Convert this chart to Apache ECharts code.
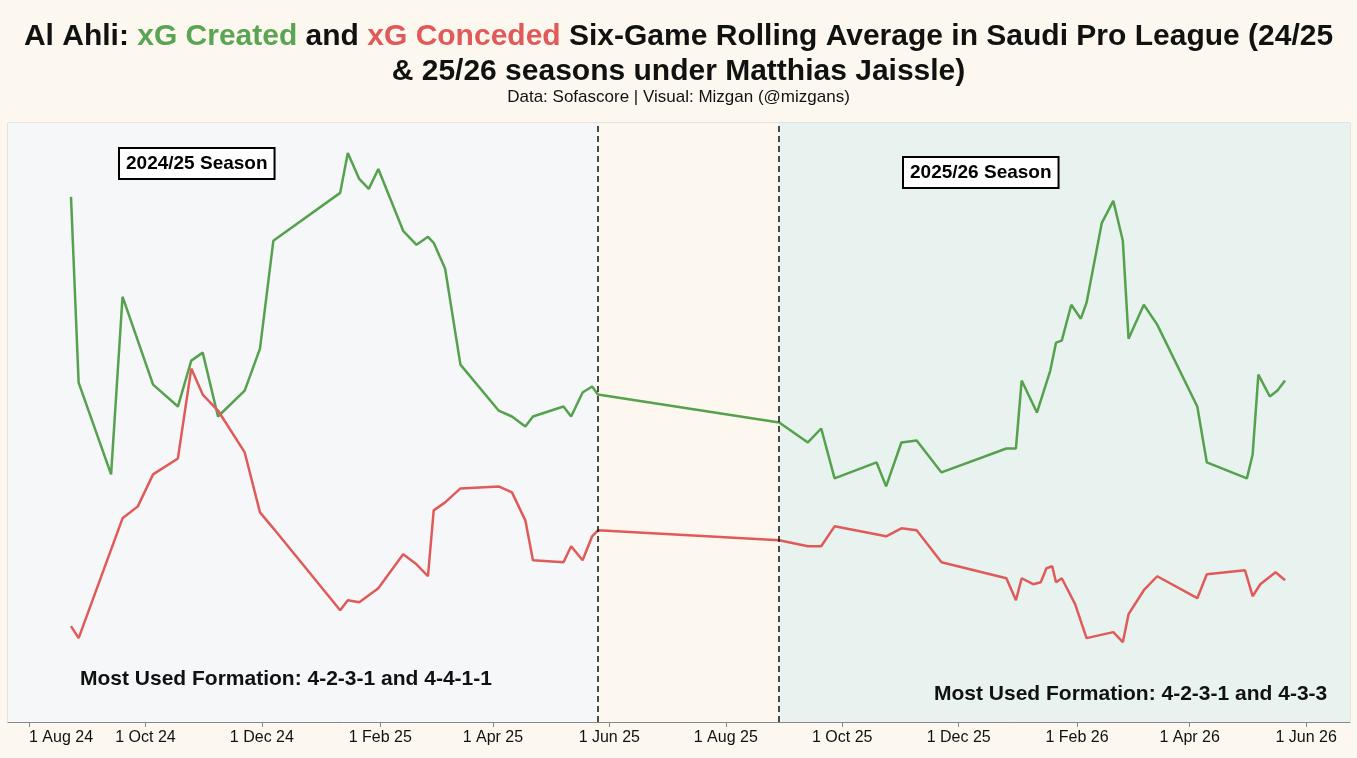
<!DOCTYPE html>
<html><head><meta charset="utf-8">
<script src="https://cdn.jsdelivr.net/npm/echarts@6/dist/echarts.min.js"></script>
<style>html,body{margin:0;padding:0;background:#fdf8ef}#c{width:1357px;height:758px}</style>
</head><body><div id="c"></div>
<script>
const createdDates=['2024-08-23','2024-08-27','2024-09-13','2024-09-19','2024-10-05','2024-10-18','2024-10-25','2024-10-31','2024-11-08','2024-11-22','2024-11-30','2024-12-07','2025-01-11','2025-01-15','2025-01-21','2025-01-26','2025-01-31','2025-02-13','2025-02-20','2025-02-26','2025-03-01','2025-03-07','2025-03-15','2025-04-04','2025-04-11','2025-04-18','2025-04-22','2025-05-08','2025-05-12','2025-05-18','2025-05-23','2025-05-26','2025-08-29','2025-09-13','2025-09-20','2025-09-27','2025-10-19','2025-10-24','2025-11-01','2025-11-09','2025-11-22','2025-12-26','2025-12-31','2026-01-03','2026-01-11','2026-01-18','2026-01-21','2026-01-24','2026-01-29','2026-02-03','2026-02-06','2026-02-14','2026-02-20','2026-02-25','2026-02-28','2026-03-08','2026-03-15','2026-04-05','2026-04-10','2026-05-01','2026-05-04','2026-05-07','2026-05-13','2026-05-17','2026-05-21'];
const createdValues=[2.63,1.70,1.24,2.13,1.69,1.58,1.81,1.85,1.53,1.66,1.87,2.41,2.65,2.85,2.72,2.67,2.77,2.46,2.39,2.43,2.40,2.27,1.79,1.56,1.53,1.48,1.53,1.58,1.53,1.65,1.68,1.64,1.50,1.40,1.47,1.22,1.30,1.18,1.40,1.41,1.25,1.37,1.37,1.71,1.55,1.76,1.90,1.91,2.09,2.02,2.10,2.50,2.61,2.41,1.92,2.09,1.99,1.58,1.30,1.22,1.34,1.74,1.63,1.66,1.71];
const concededDates=['2024-08-23','2024-08-27','2024-09-19','2024-09-27','2024-10-05','2024-10-18','2024-10-25','2024-10-31','2024-11-08','2024-11-22','2024-11-30','2024-12-07','2025-01-11','2025-01-15','2025-01-21','2025-01-31','2025-02-13','2025-02-20','2025-02-26','2025-03-01','2025-03-07','2025-03-15','2025-04-04','2025-04-11','2025-04-18','2025-04-22','2025-05-08','2025-05-12','2025-05-18','2025-05-23','2025-05-26','2025-08-29','2025-09-13','2025-09-20','2025-09-27','2025-10-24','2025-11-01','2025-11-09','2025-11-22','2025-12-26','2025-12-31','2026-01-03','2026-01-09','2026-01-13','2026-01-16','2026-01-19','2026-01-21','2026-01-24','2026-01-31','2026-02-06','2026-02-20','2026-02-25','2026-02-28','2026-03-08','2026-03-15','2026-04-05','2026-04-10','2026-04-30','2026-05-04','2026-05-08','2026-05-16','2026-05-21'];
const concededValues=[0.48,0.42,1.02,1.08,1.24,1.32,1.77,1.64,1.56,1.35,1.05,0.97,0.56,0.61,0.60,0.67,0.84,0.79,0.73,1.06,1.10,1.17,1.18,1.15,1.01,0.81,0.80,0.88,0.81,0.93,0.96,0.91,0.88,0.88,0.98,0.93,0.97,0.96,0.80,0.72,0.61,0.72,0.69,0.70,0.77,0.78,0.70,0.72,0.59,0.42,0.45,0.40,0.54,0.66,0.73,0.62,0.74,0.76,0.63,0.69,0.75,0.71];
const seasonBounds=['2024-07-21','2025-05-26','2025-08-29','2026-06-24'];
const tickDates=['2024-08-01','2024-10-01','2024-12-01','2025-02-01','2025-04-01','2025-06-01','2025-08-01','2025-10-01','2025-12-01','2026-02-01','2026-04-01','2026-06-01'];
const seasonLabels=['2024/25 Season','2025/26 Season'];
const formationLabels=['Most Used Formation: 4-2-3-1 and 4-4-1-1','Most Used Formation: 4-2-3-1 and 4-3-3'];

const ms=d=>Date.UTC(+d.slice(0,4),+d.slice(5,7)-1,+d.slice(8,10));
const zip=(d,v)=>d.map((x,i)=>[ms(x),v[i]]);
const ticks=tickDates.map(ms);
const B=seasonBounds.map(ms);
const MON=['Jan','Feb','Mar','Apr','May','Jun','Jul','Aug','Sep','Oct','Nov','Dec'];
const chart=echarts.init(document.getElementById('c'));
const F="'Liberation Sans', Arial, sans-serif";
const box=(t,l,tp)=>({type:'text',left:l,top:tp,z:100,style:{text:t,fontFamily:F,fontSize:19,fontWeight:'bold',fill:'#000',backgroundColor:'#fff',borderColor:'#000',borderWidth:2,padding:[5,6]}});
const T=(sz,c)=>({fontFamily:F,fontWeight:'bold',fontSize:sz,color:c,lineHeight:35});
chart.setOption({
  backgroundColor:'#fdf8ef',
  title:{text:'{b|Al Ahli: }{g|xG Created}{b| and }{r|xG Conceded}{b| Six-Game Rolling Average in Saudi Pro League (24/25}\n{b|& 25/26 seasons under Matthias Jaissle)}',
    subtext:'Data: Sofascore | Visual: Mizgan (@mizgans)',left:'center',top:14,itemGap:5,
    textStyle:{rich:{b:T(30,'#111'),g:T(30,'#5aa454'),r:T(30,'#e05a5a')}},
    subtextStyle:{fontFamily:F,fontSize:17,color:'#111'}},
  grid:{left:8,right:7,top:123,bottom:36,show:true,borderColor:'#ccc',borderWidth:1,outerBoundsMode:'none'},
  xAxis:{type:'value',min:B[0],max:B[3],
    axisLine:{show:true,lineStyle:{color:'#888'}},axisTick:{show:true,customValues:ticks,lineStyle:{color:'#888'}},splitLine:{show:false},
    axisLabel:{fontFamily:F,fontSize:16,color:'#111',customValues:ticks,hideOverlap:false,showMinLabel:true,showMaxLabel:true,alignMinLabel:'left',
      formatter:v=>{const d=new Date(v);return d.getUTCDate()+' '+MON[d.getUTCMonth()]+' '+String(d.getUTCFullYear()).slice(2);}}},
  yAxis:{type:'value',min:0,max:3,show:false,splitLine:{show:false}},
  graphic:[
    box(seasonLabels[0],118,147),
    box(seasonLabels[1],902,156),
    {type:'text',left:80,top:669,z:100,style:{text:formationLabels[0],fontFamily:F,fontSize:21,fontWeight:'bold',fill:'#111'}},
    {type:'text',left:934,top:684,z:100,style:{text:formationLabels[1],fontFamily:F,fontSize:21,fontWeight:'bold',fill:'#111'}}
  ],
  series:[
    {type:'line',name:'bg',data:[],silent:true,
      markArea:{silent:true,data:[
        [{xAxis:B[0],itemStyle:{color:'#f5f7f8'}},{xAxis:B[1]}],
        [{xAxis:B[1],itemStyle:{color:'#fdf8ef'}},{xAxis:B[2]}],
        [{xAxis:B[2],itemStyle:{color:'#e8f2ef'}},{xAxis:B[3]}]]},
      markLine:{silent:true,symbol:'none',label:{show:false},lineStyle:{type:[6,4],color:'#111',width:1.5},
        data:[{xAxis:B[1]},{xAxis:B[2]}]}},
    {type:'line',name:'xG Created',data:zip(createdDates,createdValues),showSymbol:false,lineStyle:{color:'#55a14e',width:2.5},itemStyle:{color:'#55a14e'}},
    {type:'line',name:'xG Conceded',data:zip(concededDates,concededValues),showSymbol:false,lineStyle:{color:'#e05a5a',width:2.5},itemStyle:{color:'#e05a5a'}}
  ]
});
</script></body></html>
